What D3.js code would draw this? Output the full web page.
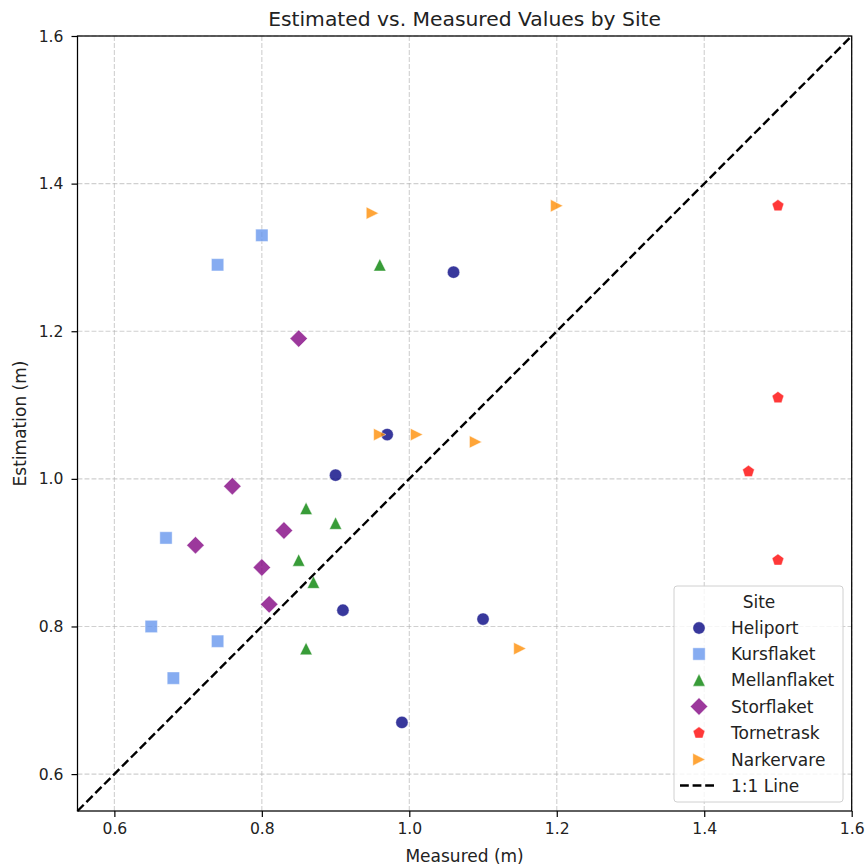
<!DOCTYPE html>
<html>
<head>
<meta charset="utf-8">
<script src="https://cdn.jsdelivr.net/npm/d3@7"></script>
<style>
  html, body { margin: 0; padding: 0; background: #fff; }
  text { font-family: "DejaVu Sans", sans-serif; fill: #222; }
</style>
</head>
<body>
<svg id="chart" width="867" height="868"></svg>
<script>
// ---- Data ----
const sites = ["Heliport", "Kursflaket", "Mellanflaket", "Storflaket", "Tornetrask", "Narkervare"];
const heliportX   = [1.06, 0.97, 0.90, 0.91, 1.10, 0.99];
const heliportY   = [1.28, 1.06, 1.005, 0.822, 0.81, 0.67];
const kursflaketX = [0.74, 0.80, 0.67, 0.65, 0.74, 0.68];
const kursflaketY = [1.29, 1.33, 0.92, 0.80, 0.78, 0.73];
const mellanX     = [0.96, 0.86, 0.90, 0.85, 0.87, 0.86];
const mellanY     = [1.29, 0.96, 0.94, 0.89, 0.86, 0.77];
const storX       = [0.85, 0.76, 0.83, 0.71, 0.80, 0.81];
const storY       = [1.19, 0.99, 0.93, 0.91, 0.88, 0.83];
const tornetraskX = [1.50, 1.50, 1.46, 1.50];
const tornetraskY = [1.37, 1.11, 1.01, 0.89];
const narkervareX = [0.95, 1.20, 0.96, 1.01, 1.09, 1.15];
const narkervareY = [1.36, 1.37, 1.06, 1.06, 1.05, 0.77];
const xTicks = [0.6, 0.8, 1.0, 1.2, 1.4, 1.6];
const yTicks = [0.6, 0.8, 1.0, 1.2, 1.4, 1.6];
const axisMin = 0.55, axisMax = 1.6;

const seriesX = [heliportX, kursflaketX, mellanX, storX, tornetraskX, narkervareX];
const seriesY = [heliportY, kursflaketY, mellanY, storY, tornetraskY, narkervareY];
const colors = ["#000080", "#6495ed", "#008000", "#800080", "#ff0000", "#ff8c00"];
const shapes = ["circle", "square", "triangle", "diamond", "pentagon", "tright"];

// ---- Layout ----
const svg = d3.select("#chart");
const L = 77.5, R = 851.7, T = 36, B = 811;
const x = d3.scaleLinear().domain([axisMin, axisMax]).range([L, R]);
const y = d3.scaleLinear().domain([axisMin, axisMax]).range([B, T]);

const M = 12.3; // marker size in px
const OP = 0.78;
function markerPath(shape, m) {
  const h = m / 2;
  const poly = pts => "M" + pts.map(p => p[0].toFixed(2) + "," + p[1].toFixed(2)).join("L") + "Z";
  if (shape === "circle") return d3.symbol().type(d3.symbolCircle).size(Math.PI * h * h)();
  if (shape === "square") return poly([[-h, -h], [h, -h], [h, h], [-h, h]]);
  if (shape === "triangle") return poly([[0, -h], [-h, h], [h, h]]);
  if (shape === "tright") return poly([[h, 0], [-h, -h], [-h, h]]);
  if (shape === "diamond") { const d = h * Math.SQRT2; return poly([[0, -d], [d, 0], [0, d], [-d, 0]]); }
  if (shape === "pentagon") {
    const pts = d3.range(5).map(i => { const a = -Math.PI / 2 + i * 2 * Math.PI / 5; return [h * Math.cos(a), h * Math.sin(a)]; });
    return poly(pts);
  }
}

// Grid
const grid = svg.append("g");
xTicks.forEach(t => grid.append("line").attr("x1", x(t)).attr("x2", x(t)).attr("y1", T).attr("y2", B)
  .attr("stroke", "#b0b0b0").attr("stroke-opacity", 0.6).attr("stroke-width", 1.1).attr("stroke-dasharray", "4.9,2.1"));
yTicks.forEach(t => grid.append("line").attr("y1", y(t)).attr("y2", y(t)).attr("x1", L).attr("x2", R)
  .attr("stroke", "#b0b0b0").attr("stroke-opacity", 0.6).attr("stroke-width", 1.1).attr("stroke-dasharray", "4.9,2.1"));

// Points
seriesX.forEach((xs, si) => {
  const g = svg.append("g");
  xs.forEach((xv, i) => {
    g.append("path").attr("d", markerPath(shapes[si], M))
      .attr("transform", `translate(${x(xv)},${y(seriesY[si][i])})`)
      .attr("fill", colors[si]).attr("fill-opacity", OP)
      .attr("stroke", "#ffffff").attr("stroke-opacity", 0.7).attr("stroke-width", 0.6);
  });
});

// 1:1 line
svg.append("line").attr("x1", x(axisMin)).attr("y1", y(axisMin)).attr("x2", x(axisMax)).attr("y2", y(axisMax))
  .attr("stroke", "#000").attr("stroke-width", 2.4).attr("stroke-dasharray", "8.8,3.8");

// Axes
const xAxis = d3.axisBottom(x).tickValues(xTicks).tickFormat(d3.format(".1f")).tickSizeOuter(0).tickSize(6).tickPadding(6);
const yAxis = d3.axisLeft(y).tickValues(yTicks).tickFormat(d3.format(".1f")).tickSizeOuter(0).tickSize(6).tickPadding(8);
const gx = svg.append("g").attr("transform", `translate(0,${B})`).call(xAxis);
const gy = svg.append("g").attr("transform", `translate(${L},0)`).call(yAxis);
[gx, gy].forEach(g => {
  g.select(".domain").remove();
  g.selectAll("line").attr("stroke", "#000").attr("stroke-width", 1.2);
  g.selectAll("text").attr("font-size", 15.6).attr("font-family", "DejaVu Sans").attr("fill", "#222");
});
// Frame
svg.append("rect").attr("x", L).attr("y", T).attr("width", R - L).attr("height", B - T)
  .attr("fill", "none").attr("stroke", "#000").attr("stroke-width", 1.25);

// Titles
svg.append("text").attr("x", (L + R) / 2).attr("y", 26).attr("text-anchor", "middle")
  .attr("font-size", 20.3).text("Estimated vs. Measured Values by Site");
svg.append("text").attr("x", (L + R) / 2).attr("y", 862).attr("text-anchor", "middle")
  .attr("font-size", 17).text("Measured (m)");
svg.append("text").attr("transform", `translate(26,${(T + B) / 2}) rotate(-90)`).attr("text-anchor", "middle")
  .attr("font-size", 17).text("Estimation (m)");

// Legend
const lg = svg.append("g");
lg.append("rect").attr("x", 674).attr("y", 586).attr("width", 169).attr("height", 216).attr("rx", 3)
  .attr("fill", "#fff").attr("fill-opacity", 0.8).attr("stroke", "#d0d0d0").attr("stroke-width", 1);
lg.append("text").attr("x", 759).attr("y", 608).attr("text-anchor", "middle").attr("font-size", 17).text("Site");
const rowY = [628, 654, 680, 706.5, 733, 759.5];
sites.forEach((s, i) => {
  lg.append("path").attr("d", markerPath(shapes[i], M)).attr("transform", `translate(699,${rowY[i]})`)
    .attr("fill", colors[i]).attr("fill-opacity", OP)
    .attr("stroke", "#ffffff").attr("stroke-opacity", 0.7).attr("stroke-width", 0.6);
  lg.append("text").attr("x", 731).attr("y", rowY[i] + 6).attr("font-size", 17).text(s);
});
lg.append("line").attr("x1", 680).attr("x2", 716).attr("y1", 785.5).attr("y2", 785.5)
  .attr("stroke", "#000").attr("stroke-width", 2.4).attr("stroke-dasharray", "8.8,3.8");
lg.append("text").attr("x", 731).attr("y", 791.5).attr("font-size", 17).text("1:1 Line");
</script>
</body>
</html>
